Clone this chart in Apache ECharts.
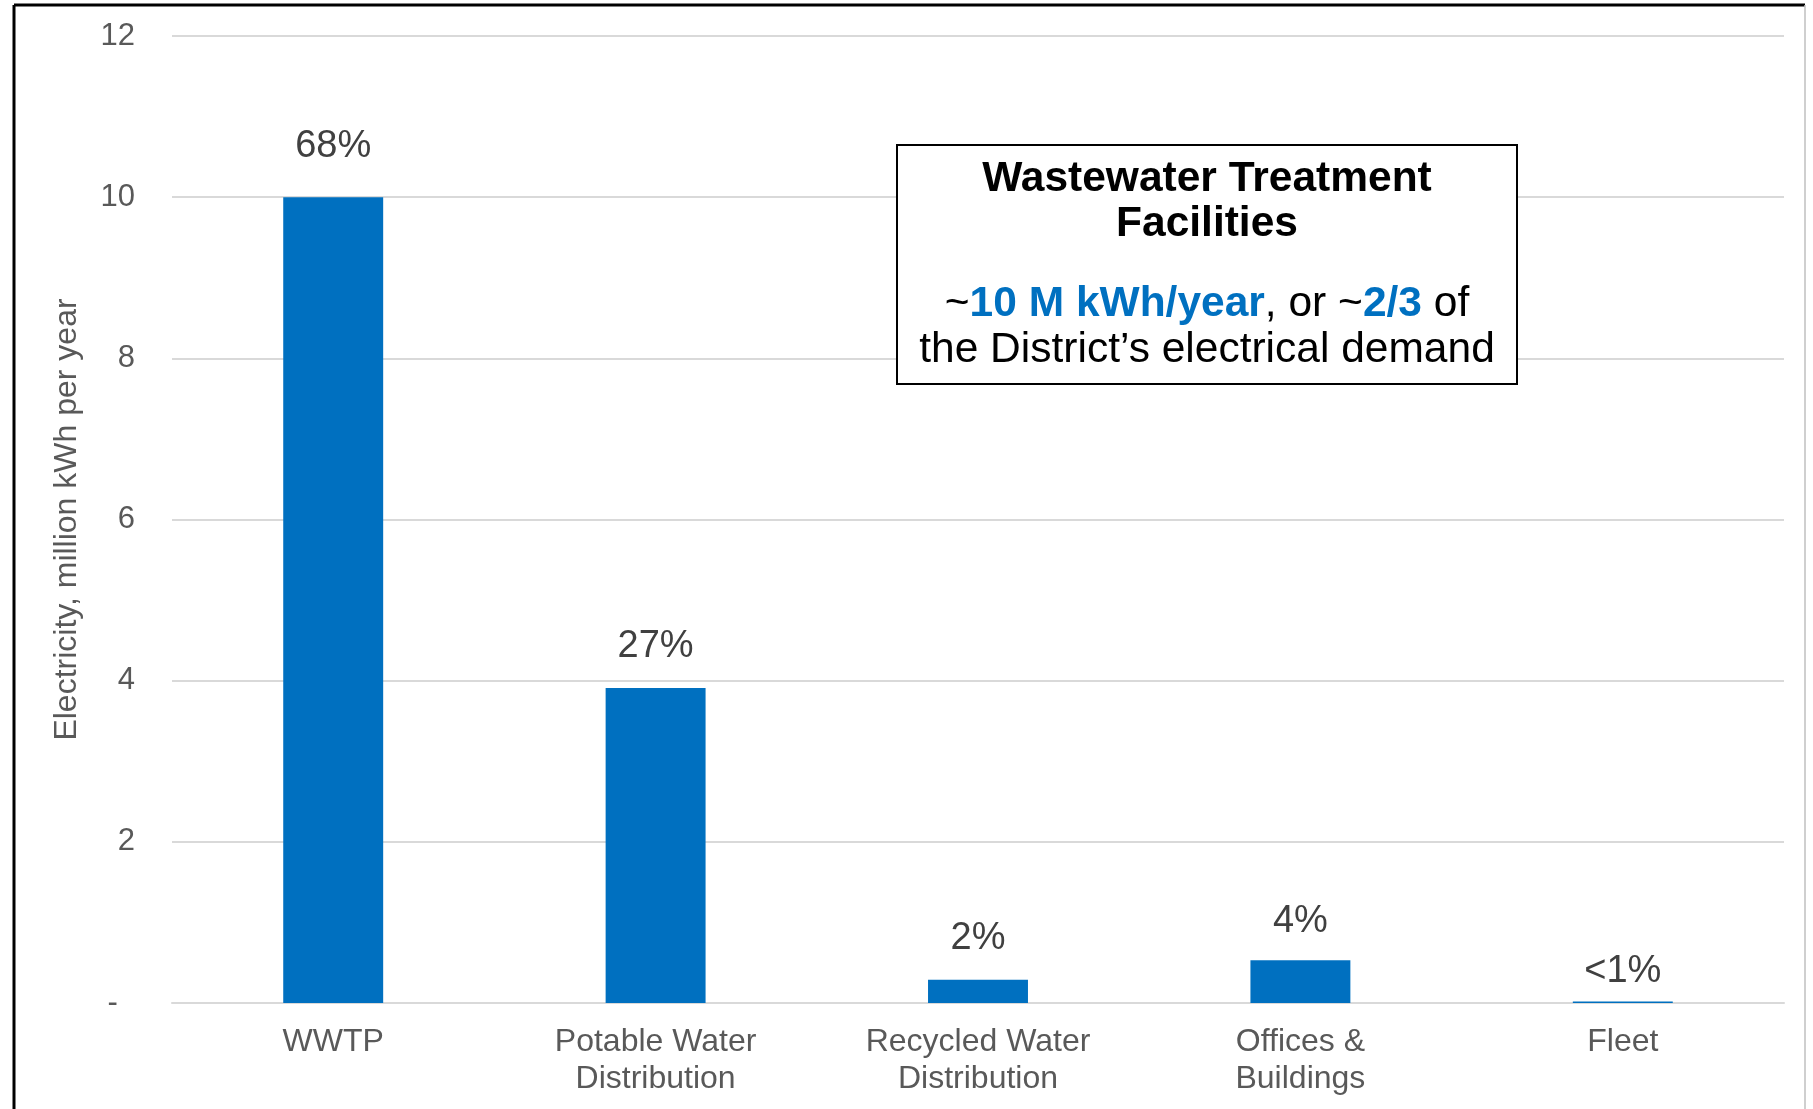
<!DOCTYPE html>
<html>
<head>
<meta charset="utf-8">
<script src="https://cdn.jsdelivr.net/npm/echarts@6/dist/echarts.min.js"></script>
<style>
  html, body { margin: 0; padding: 0; background: #ffffff; }
  #chart { width: 1813px; height: 1109px; }
</style>
</head>
<body>
<div id="chart"></div>
<script>
// ---- data ----
var categories = ['WWTP', 'Potable Water\nDistribution', 'Recycled Water\nDistribution', 'Offices &\nBuildings', 'Fleet'];
var electricity = [10.0, 3.91, 0.29, 0.53, 0.02];   // million kWh per year
var shareLabels = ['68%', '27%', '2%', '4%', '<1%'];
var yTicks = { min: 0, max: 12, interval: 2 };
var yAxisTitle = 'Electricity, million kWh per year';
var noteTitle = ['Wastewater Treatment', 'Facilities'];
var noteLine1 = ['~', '10 M kWh/year', ', or ~', '2/3', ' of'];
var noteLine2 = 'the District\u2019s electrical demand';

// ---- chart ----
var FONT = '"Liberation Sans", Arial, Helvetica, sans-serif';
var BLUE = '#0070C0';
var labelGap = [32, 22, 22, 20, 11];

var chart = echarts.init(document.getElementById('chart'), null, { renderer: 'canvas' });

var seriesData = electricity.map(function (v, i) {
  return { value: v, label: { distance: labelGap[i] } };
});

var noteText =
  '{b|' + noteTitle[0] + '}\n' +
  '{b|' + noteTitle[1] + '}\n' +
  '{gap| }\n' +
  '{n|' + noteLine1[0] + '}{hb|' + noteLine1[1] + '}{n|' + noteLine1[2] + '}{hb|' + noteLine1[3] + '}{n|' + noteLine1[4] + '}\n' +
  '{n|' + noteLine2 + '}';

var option = {
  backgroundColor: '#ffffff',
  animation: false,
  grid: { left: 172, right: 29, top: 36, bottom: 106, containLabel: false },
  xAxis: {
    type: 'category',
    data: categories,
    axisLine: { show: true, lineStyle: { color: '#d9d9d9', width: 2 } },
    axisTick: { show: false },
    axisLabel: {
      color: '#595959', fontFamily: FONT, fontSize: 32, lineHeight: 37, margin: 21,
      interval: 0
    }
  },
  yAxis: {
    type: 'value',
    min: yTicks.min, max: yTicks.max, interval: yTicks.interval,
    name: yAxisTitle,
    nameLocation: 'middle',
    nameGap: 89,
    nameTextStyle: { color: '#595959', fontFamily: FONT, fontSize: 32 },
    axisLine: { show: false },
    axisTick: { show: false },
    axisLabel: {
      color: '#595959', fontFamily: FONT, fontSize: 31, margin: 37,
      formatter: function (v) { return v === 0 ? '-  ' : String(v); }
    },
    splitLine: { lineStyle: { color: '#d9d9d9', width: 2 } }
  },
  series: [{
    type: 'bar',
    data: seriesData,
    barWidth: '31%',
    itemStyle: { color: BLUE },
    label: {
      show: true,
      position: 'top',
      color: '#404040',
      fontFamily: FONT,
      fontSize: 38,
      formatter: function (p) { return shareLabels[p.dataIndex]; }
    }
  }],
  graphic: [
    // outer frame
    { type: 'line', shape: { x1: 14, y1: 5, x2: 14, y2: 1109 }, style: { stroke: '#000', lineWidth: 3 }, z: 100 },
    { type: 'line', shape: { x1: 14, y1: 5, x2: 1805, y2: 5 }, style: { stroke: '#000', lineWidth: 3 }, z: 100 },
    { type: 'line', shape: { x1: 1805, y1: 5, x2: 1805, y2: 1109 }, style: { stroke: '#bfbfbf', lineWidth: 1.5 }, z: 100 },
    // annotation box
    {
      type: 'rect',
      shape: { x: 897, y: 145, width: 620, height: 239 },
      style: { fill: '#ffffff', stroke: '#000000', lineWidth: 2 },
      z: 100
    },
    {
      type: 'text',
      x: 1207, y: 157,
      style: {
        text: noteText,
        align: 'center',
        verticalAlign: 'top',
        fontFamily: FONT,
        fill: '#000000',
        rich: {
          b: { fontFamily: FONT, fontSize: 42.5, fontWeight: 'bold', fill: '#000000', lineHeight: 45 },
          gap: { fontFamily: FONT, fontSize: 10, lineHeight: 34 },
          n: { fontFamily: FONT, fontSize: 42.5, fill: '#000000', lineHeight: 46 },
          hb: { fontFamily: FONT, fontSize: 42.5, fontWeight: 'bold', fill: BLUE, lineHeight: 46 }
        }
      },
      z: 101
    }
  ]
};

chart.setOption(option);
</script>
</body>
</html>
